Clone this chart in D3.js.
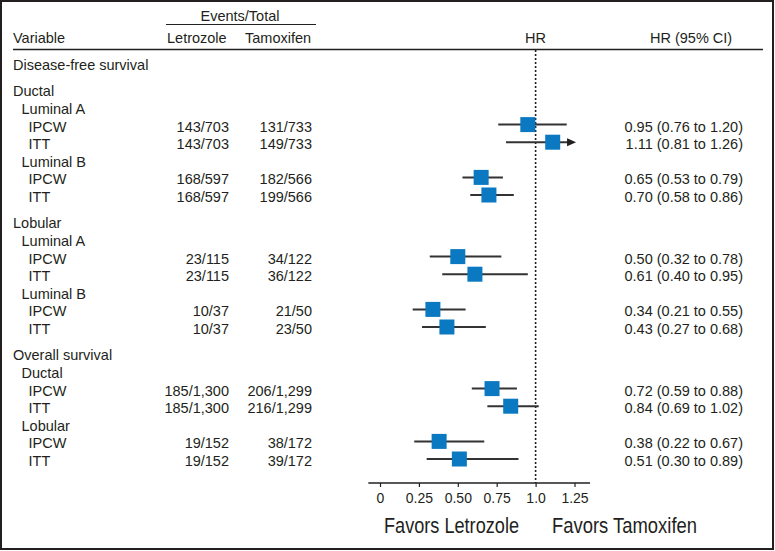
<!DOCTYPE html>
<html>
<head>
<meta charset="utf-8">
<script src="https://cdn.jsdelivr.net/npm/d3@7"></script>
<style>
  body { margin: 0; background: #fff; }
  svg { display: block; font-family: "Liberation Sans", Arial, sans-serif; }
</style>
</head>
<body>
<svg width="775" height="551"></svg>
<script>
// row labels and their indent level (0 = section, 1 = subgroup, 2 = analysis)
const labels = ["Disease-free survival", "Ductal", "Luminal A", "IPCW", "ITT", "Luminal B", "IPCW", "ITT",
  "Lobular", "Luminal A", "IPCW", "ITT", "Luminal B", "IPCW", "ITT",
  "Overall survival", "Ductal", "IPCW", "ITT", "Lobular", "IPCW", "ITT"];
const levels = [0, 0, 1, 2, 2, 1, 2, 2, 0, 1, 2, 2, 1, 2, 2, 0, 1, 2, 2, 1, 2, 2];

// events/total per arm (null for header rows)
const letrozole = [null, null, null, "143/703", "143/703", null, "168/597", "168/597",
  null, null, "23/115", "23/115", null, "10/37", "10/37",
  null, null, "185/1,300", "185/1,300", null, "19/152", "19/152"];
const tamoxifen = [null, null, null, "131/733", "149/733", null, "182/566", "199/566",
  null, null, "34/122", "36/122", null, "21/50", "23/50",
  null, null, "206/1,299", "216/1,299", null, "38/172", "39/172"];

// hazard ratios with 95% CI
const hr = [null, null, null, 0.95, 1.11, null, 0.65, 0.70,
  null, null, 0.50, 0.61, null, 0.34, 0.43,
  null, null, 0.72, 0.84, null, 0.38, 0.51];
const lower = [null, null, null, 0.76, 0.81, null, 0.53, 0.58,
  null, null, 0.32, 0.40, null, 0.21, 0.27,
  null, null, 0.59, 0.69, null, 0.22, 0.30];
const upper = [null, null, null, 1.20, 1.26, null, 0.79, 0.86,
  null, null, 0.78, 0.95, null, 0.55, 0.68,
  null, null, 0.88, 1.02, null, 0.67, 0.89];
// CI continues beyond the axis
const arrowed = [false, false, false, false, true, false, false, false,
  false, false, false, false, false, false, false,
  false, false, false, false, false, false, false];

const tickValues = [0, 0.25, 0.5, 0.75, 1, 1.25];
const tickLabels = ["0", "0.25", "0.50", "0.75", "1.0", "1.25"];

const ink = "#231f20";
const blue = "#0a79c2";

const svg = d3.select("svg");

// frame
svg.append("rect")
  .attr("x", 1).attr("y", 1).attr("width", 772).attr("height", 548)
  .attr("fill", "none").attr("stroke", ink).attr("stroke-width", 2);

// rows: add half a row of space before each section except the first
let slot = -1;
const slots = levels.map((lv, i) => {
  slot += (lv === 0 && i > 0) ? 1.5 : 1;
  return slot;
});
const y = d3.scaleLinear().domain([0, 22.5]).range([65, 461]);
const x = d3.scaleLinear().domain([0, 1.25]).range([380, 574.5]);
const indent = [13, 21.5, 28.5];

const rows = labels.map((label, i) => ({
  label, level: levels[i], let: letrozole[i], tam: tamoxifen[i],
  hr: hr[i], lo: lower[i], hi: upper[i], arrow: arrowed[i], cy: y(slots[i])
}));

// header
const head = svg.append("g").attr("fill", ink).style("font-size", "14.5px");
head.append("text").attr("x", 240).attr("y", 21).attr("text-anchor", "middle").text("Events/Total");
head.append("line").attr("x1", 166).attr("x2", 316).attr("y1", 24.5).attr("y2", 24.5)
  .attr("stroke", ink).attr("stroke-width", 1.2);
head.append("text").attr("x", 13).attr("y", 42.5).text("Variable");
head.append("text").attr("x", 167).attr("y", 42.5).text("Letrozole");
head.append("text").attr("x", 245).attr("y", 42.5).text("Tamoxifen");
head.append("text").attr("x", x(1)).attr("y", 42.5).attr("text-anchor", "middle").text("HR");
head.append("text").attr("x", 650).attr("y", 42.5).text("HR (95% CI)");
svg.append("line").attr("x1", 13).attr("x2", 763).attr("y1", 49.5).attr("y2", 49.5)
  .attr("stroke", ink).attr("stroke-width", 1.5);

// table text
const tbl = svg.append("g").attr("fill", ink).style("font-size", "14.5px");
tbl.selectAll(".lab").data(rows).join("text")
  .attr("x", d => indent[d.level]).attr("y", d => d.cy + 5).text(d => d.label);
const data = rows.filter(d => d.hr !== null);
tbl.selectAll(".let").data(data).join("text")
  .attr("x", 229).attr("y", d => d.cy + 5).attr("text-anchor", "end").text(d => d.let);
tbl.selectAll(".tam").data(data).join("text")
  .attr("x", 312).attr("y", d => d.cy + 5).attr("text-anchor", "end").text(d => d.tam);
tbl.selectAll(".ci").data(data).join("text")
  .attr("x", 743).attr("y", d => d.cy + 5).attr("text-anchor", "end")
  .text(d => `${d.hr.toFixed(2)} (${d.lo.toFixed(2)} to ${d.hi.toFixed(2)})`);

// reference line at HR = 1
const axisY = 483;
svg.append("line").attr("x1", x(1)).attr("x2", x(1)).attr("y1", 50).attr("y2", axisY)
  .attr("stroke", ink).attr("stroke-width", 1.6).attr("stroke-dasharray", "2,2");

// whiskers and squares
const marks = svg.append("g");
marks.selectAll("line").data(data).join("line")
  .attr("x1", d => x(d.lo)).attr("x2", d => d.arrow ? x(d.hi) - 7 : x(d.hi))
  .attr("y1", d => d.cy - 2).attr("y2", d => d.cy - 2)
  .attr("stroke", "#333").attr("stroke-width", 2);
marks.selectAll("path").data(data.filter(d => d.arrow)).join("path")
  .attr("d", d => `M${x(d.hi)},${d.cy - 2} l-9,-4 v8 z`).attr("fill", ink);
marks.selectAll("rect").data(data).join("rect")
  .attr("x", d => x(d.hr) - 7.5).attr("y", d => d.cy - 9.5)
  .attr("width", 15).attr("height", 15).attr("fill", blue);

// axis
const axis = svg.append("g").attr("transform", `translate(0,${axisY})`)
  .call(d3.axisBottom(x).tickValues(tickValues).tickFormat((d, i) => tickLabels[i]).tickSize(4).tickPadding(6));
axis.select(".domain").remove();
axis.append("line").attr("x1", x(-0.075)).attr("x2", x(1.35))
  .attr("stroke", ink).attr("stroke-width", 1.5);
axis.selectAll(".tick line").attr("stroke", ink).attr("stroke-width", 1.2);
axis.selectAll(".tick text").attr("fill", ink).style("font-size", "14px")
  .style("font-family", '"Liberation Sans", Arial, sans-serif');

// favors labels (condensed face: squeeze the regular one)
const fav = svg.append("g").attr("fill", ink).style("font-size", "21.5px");
fav.append("text").attr("x", 384).attr("y", 533)
  .attr("textLength", 135).attr("lengthAdjust", "spacingAndGlyphs").text("Favors Letrozole");
fav.append("text").attr("x", 552).attr("y", 533)
  .attr("textLength", 145).attr("lengthAdjust", "spacingAndGlyphs").text("Favors Tamoxifen");
</script>
</body>
</html>
